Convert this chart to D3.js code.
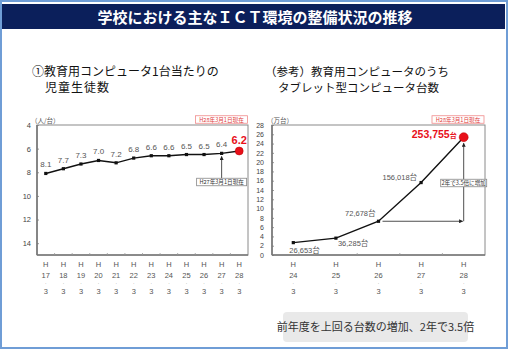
<!DOCTYPE html>
<html>
<head>
<meta charset="utf-8">
<script src="https://cdn.jsdelivr.net/npm/d3@7/dist/d3.min.js"></script>
<style>
  body { margin: 0; background: #fff; }
  svg { display: block; font-family: "Liberation Sans", "Noto Sans CJK JP", sans-serif; }
  .jp { font-family: "Noto Sans CJK JP", sans-serif; }
</style>
</head>
<body>
<div id="chart"></div>
<script>
// --- data ---
const titleText = "学校における主なＩＣＴ環境の整備状況の推移";
const leftHeading = ["①教育用コンピュータ1台当たりの", "児童生徒数"];
const rightHeading = ["（参考）教育用コンピュータのうち", "タブレット型コンピュータ台数"];

const leftYears = ["17", "18", "19", "20", "21", "22", "23", "24", "25", "26", "27", "28"];
const leftValues = [8.1, 7.7, 7.3, 7.0, 7.2, 6.8, 6.6, 6.6, 6.5, 6.5, 6.4, 6.2];
const leftTicks = [4, 6, 8, 10, 12, 14];

const rightYears = ["24", "25", "26", "27", "28"];
const rightValues = [26653, 36285, 72678, 156018, 253755]; // 台
const rightTicks = [0, 2, 4, 6, 8, 10, 12, 14, 16, 18, 20, 22, 24, 26, 28]; // 万台

const dateNote = "H28年3月1日現在";
const prevNote = "H27年3月1日現在";
const growthNote = "2年で3.5倍に増加";
const calloutText = "前年度を上回る台数の増加、2年で3.5倍";

const W = 508, H = 349;
const svg = d3.select("#chart").append("svg").attr("width", W).attr("height", H);

const defs = svg.append("defs");
defs.append("marker")
  .attr("id", "arrow")
  .attr("viewBox", "0 0 10 10")
  .attr("refX", 9).attr("refY", 5)
  .attr("markerWidth", 5).attr("markerHeight", 5)
  .attr("orient", "auto")
  .append("path").attr("d", "M0,0L10,5L0,10z").attr("fill", "#222");

// outer frame + title bar
svg.append("rect").attr("x", 1).attr("y", 1).attr("width", 506).attr("height", 347)
  .attr("fill", "none").attr("stroke", "#6f9dd6").attr("stroke-width", 2);
svg.append("rect").attr("x", 2).attr("y", 4).attr("width", 503).attr("height", 25).attr("fill", "#0b1f5b");
svg.append("text").attr("class", "jp").attr("x", 255).attr("y", 22.5)
  .attr("text-anchor", "middle").attr("fill", "#fff").attr("font-size", 15).attr("font-weight", "bold")
  .text(titleText);

// headings
svg.append("text").attr("class", "jp").attr("x", 32).attr("y", 76).attr("font-size", 12).attr("fill", "#111").text(leftHeading[0]);
svg.append("text").attr("class", "jp").attr("x", 45).attr("y", 91.5).attr("font-size", 12).attr("fill", "#111").attr("letter-spacing", 1).text(leftHeading[1]);
svg.append("text").attr("class", "jp").attr("x", 265).attr("y", 76).attr("font-size", 11.5).attr("fill", "#111").text(rightHeading[0]);
svg.append("text").attr("class", "jp").attr("x", 278).attr("y", 91.5).attr("font-size", 11.5).attr("fill", "#111").text(rightHeading[1]);

// helpers
function noteBox(g, cx, cy, text, stroke, color, w) {
  const h = 7.5;
  g.append("rect").attr("x", cx - w / 2).attr("y", cy - h / 2).attr("width", w).attr("height", h)
    .attr("fill", "#fff").attr("stroke", stroke).attr("stroke-width", 0.8);
  g.append("text").attr("class", "jp").attr("x", cx).attr("y", cy + 2)
    .attr("text-anchor", "middle").attr("font-size", 5.6).attr("fill", color).text(text);
}

function frame(g, x0, x1, y0, y1) {
  g.append("rect").attr("x", x0).attr("y", y0).attr("width", x1 - x0).attr("height", y1 - y0)
    .attr("fill", "none").attr("stroke", "#8a8a8a").attr("stroke-width", 1);
  g.append("line").attr("x1", x0).attr("x2", x0).attr("y1", y0).attr("y2", y1)
    .attr("stroke", "#777").attr("stroke-width", 1.6);
  g.append("line").attr("x1", x0).attr("x2", x1).attr("y1", y1).attr("y2", y1)
    .attr("stroke", "#777").attr("stroke-width", 1.6);
}

function xLabels(g, x, years, y1) {
  const bw = x.bandwidth();
  // small inward ticks at band edges
  g.selectAll(".xt").data(years.slice(1)).join("line")
    .attr("x1", d => x(d)).attr("x2", d => x(d))
    .attr("y1", y1).attr("y2", y1 - 2)
    .attr("stroke", "#999").attr("stroke-width", 0.8);
  const lab = g.selectAll(".xl").data(years).join("g")
    .attr("transform", d => `translate(${x(d) + bw / 2},0)`);
  lab.append("text").attr("y", 267).attr("font-size", 7.5).text("H");
  lab.append("text").attr("y", 278).attr("font-size", 7.5).text(d => d);
  lab.append("text").attr("y", 284.5).attr("font-size", 4.5).text("·");
  lab.append("text").attr("y", 293.5).attr("font-size", 7.5).text("3");
  lab.selectAll("text").attr("text-anchor", "middle").attr("fill", "#555");
}

// ---------------- left chart ----------------
const L = { x0: 37, x1: 248, y0: 125, y1: 255 };
const gl = svg.append("g");
const xl = d3.scaleBand().domain(leftYears).range([L.x0, L.x1]);
const yl = d3.scaleLinear().domain([4, 15]).range([L.y0, L.y1]);

gl.append("g").attr("transform", `translate(${L.x0},0)`)
  .call(d3.axisLeft(yl).tickValues(leftTicks).tickSizeInner(-2).tickSizeOuter(0).tickPadding(6))
  .call(a => a.select(".domain").remove())
  .call(a => a.selectAll("line").attr("stroke", "#999"))
  .call(a => a.selectAll("text").attr("font-size", 7.5).attr("fill", "#444").attr("font-family", "Liberation Sans"));
frame(gl, L.x0, L.x1, L.y0, L.y1);
xLabels(gl, xl, leftYears, L.y1);

gl.append("text").attr("class", "jp").attr("x", 31).attr("y", 123).attr("font-size", 6.5).attr("fill", "#555").text("（人/台）");
noteBox(gl, 221.5, 119.5, dateNote, "#f08a8a", "#e03c3c", 52);

const lcx = d => xl(d) + xl.bandwidth() / 2;
const leftPts = leftYears.map((d, i) => ({ year: d, v: leftValues[i] }));
gl.append("path").datum(leftPts)
  .attr("fill", "none").attr("stroke", "#111").attr("stroke-width", 1.4)
  .attr("d", d3.line().x(d => lcx(d.year)).y(d => yl(d.v)));
gl.selectAll(".pt").data(leftPts.slice(0, -1)).join("rect")
  .attr("x", d => lcx(d.year) - 1.6).attr("y", d => yl(d.v) - 1.6)
  .attr("width", 3.2).attr("height", 3.2).attr("fill", "#111");
gl.selectAll(".lb").data(leftPts.slice(0, -1)).join("text")
  .attr("x", d => lcx(d.year)).attr("y", d => yl(d.v) - 6)
  .attr("text-anchor", "middle").attr("font-size", 8).attr("fill", "#555")
  .text(d => d.v.toFixed(1));
const lastL = leftPts[leftPts.length - 1];
gl.append("circle").attr("cx", lcx(lastL.year)).attr("cy", yl(lastL.v)).attr("r", 4)
  .attr("fill", "#e8101a").attr("stroke", "#b00").attr("stroke-width", 0.5);
gl.append("text").attr("x", lcx(lastL.year)).attr("y", yl(lastL.v) - 7)
  .attr("text-anchor", "middle").attr("font-size", 11).attr("font-weight", "bold").attr("fill", "#e8101a")
  .text(lastL.v.toFixed(1));

// arrow from H27 note up to point
const prevL = leftPts[leftPts.length - 2];
gl.append("line").attr("x1", lcx(prevL.year)).attr("x2", lcx(prevL.year))
  .attr("y1", 178).attr("y2", yl(prevL.v) + 3)
  .attr("stroke", "#222").attr("stroke-width", 0.8).attr("marker-end", "url(#arrow)");
noteBox(gl, lcx(prevL.year), 182, prevNote, "#888", "#333", 50);

// ---------------- right chart ----------------
const R = { x0: 272, x1: 485, y0: 125, y1: 255 };
const gr = svg.append("g");
const xr = d3.scaleBand().domain(rightYears).range([R.x0, R.x1]);
const yr = d3.scaleLinear().domain([0, 28]).range([R.y1, R.y0]);

gr.append("g").attr("transform", `translate(${R.x0},0)`)
  .call(d3.axisLeft(yr).tickValues(rightTicks).tickSizeInner(-2).tickSizeOuter(0).tickPadding(8))
  .call(a => a.select(".domain").remove())
  .call(a => a.selectAll("line").attr("stroke", "#999"))
  .call(a => a.selectAll("text").attr("font-size", 7).attr("fill", "#444").attr("font-family", "Liberation Sans"));
frame(gr, R.x0, R.x1, R.y0, R.y1);
xLabels(gr, xr, rightYears, R.y1);

gr.append("text").attr("class", "jp").attr("x", 267).attr("y", 123).attr("font-size", 6.5).attr("fill", "#555").text("（万台）");
noteBox(gr, 458, 119.5, dateNote, "#f08a8a", "#e03c3c", 52);

const rcx = d => xr(d) + xr.bandwidth() / 2;
const rightPts = rightYears.map((d, i) => ({ year: d, v: rightValues[i] }));
const ry = d => yr(d.v / 10000);
gr.append("path").datum(rightPts)
  .attr("fill", "none").attr("stroke", "#111").attr("stroke-width", 1.4)
  .attr("d", d3.line().x(d => rcx(d.year)).y(ry));
gr.selectAll(".pt").data(rightPts.slice(0, -1)).join("rect")
  .attr("x", d => rcx(d.year) - 1.6).attr("y", d => ry(d) - 1.6)
  .attr("width", 3.2).attr("height", 3.2).attr("fill", "#111");

// value labels (offsets per point as in the original)
const rOffsets = [[-4, 10, "start"], [2, 8, "start"], [-3, -5, "end"], [-4, -3, "end"]];
const fmt = d3.format(",");
gr.selectAll(".lb").data(rightPts.slice(0, -1)).join("text")
  .attr("x", (d, i) => rcx(d.year) + rOffsets[i][0])
  .attr("y", (d, i) => ry(d) + rOffsets[i][1])
  .attr("text-anchor", (d, i) => rOffsets[i][2])
  .attr("font-size", 7.5).attr("fill", "#555")
  .text(d => fmt(d.v) + "台");

const lastR = rightPts[rightPts.length - 1];
gr.append("circle").attr("cx", rcx(lastR.year)).attr("cy", ry(lastR)).attr("r", 4.5)
  .attr("fill", "#e8101a").attr("stroke", "#b00").attr("stroke-width", 0.5);
const lastLab = gr.append("text").attr("x", rcx(lastR.year) - 7).attr("y", ry(lastR) + 1)
  .attr("text-anchor", "end").attr("fill", "#e8101a").attr("font-weight", "bold");
lastLab.append("tspan").attr("font-size", 10.5).text(fmt(lastR.v));
lastLab.append("tspan").attr("font-size", 7).text("台");

// growth arrows from H26 to H28
const h26 = rightPts[2];
gr.append("line").attr("x1", rcx(h26.year) + 4).attr("x2", rcx(lastR.year) - 1)
  .attr("y1", ry(h26)).attr("y2", ry(h26))
  .attr("stroke", "#222").attr("stroke-width", 0.8).attr("marker-end", "url(#arrow)");
gr.append("line").attr("x1", rcx(lastR.year)).attr("x2", rcx(lastR.year))
  .attr("y1", ry(h26)).attr("y2", ry(lastR) + 6)
  .attr("stroke", "#222").attr("stroke-width", 0.8).attr("marker-end", "url(#arrow)");
noteBox(gr, rcx(lastR.year), 183, growthNote, "#888", "#333", 46);

// bottom callout
svg.append("rect").attr("x", 283).attr("y", 312).attr("width", 185).attr("height", 30).attr("rx", 4)
  .attr("fill", "#e9e9e9");
svg.append("text").attr("class", "jp").attr("x", 375.5).attr("y", 331)
  .attr("text-anchor", "middle").attr("font-size", 11).attr("fill", "#333").text(calloutText);
</script>
</body>
</html>
